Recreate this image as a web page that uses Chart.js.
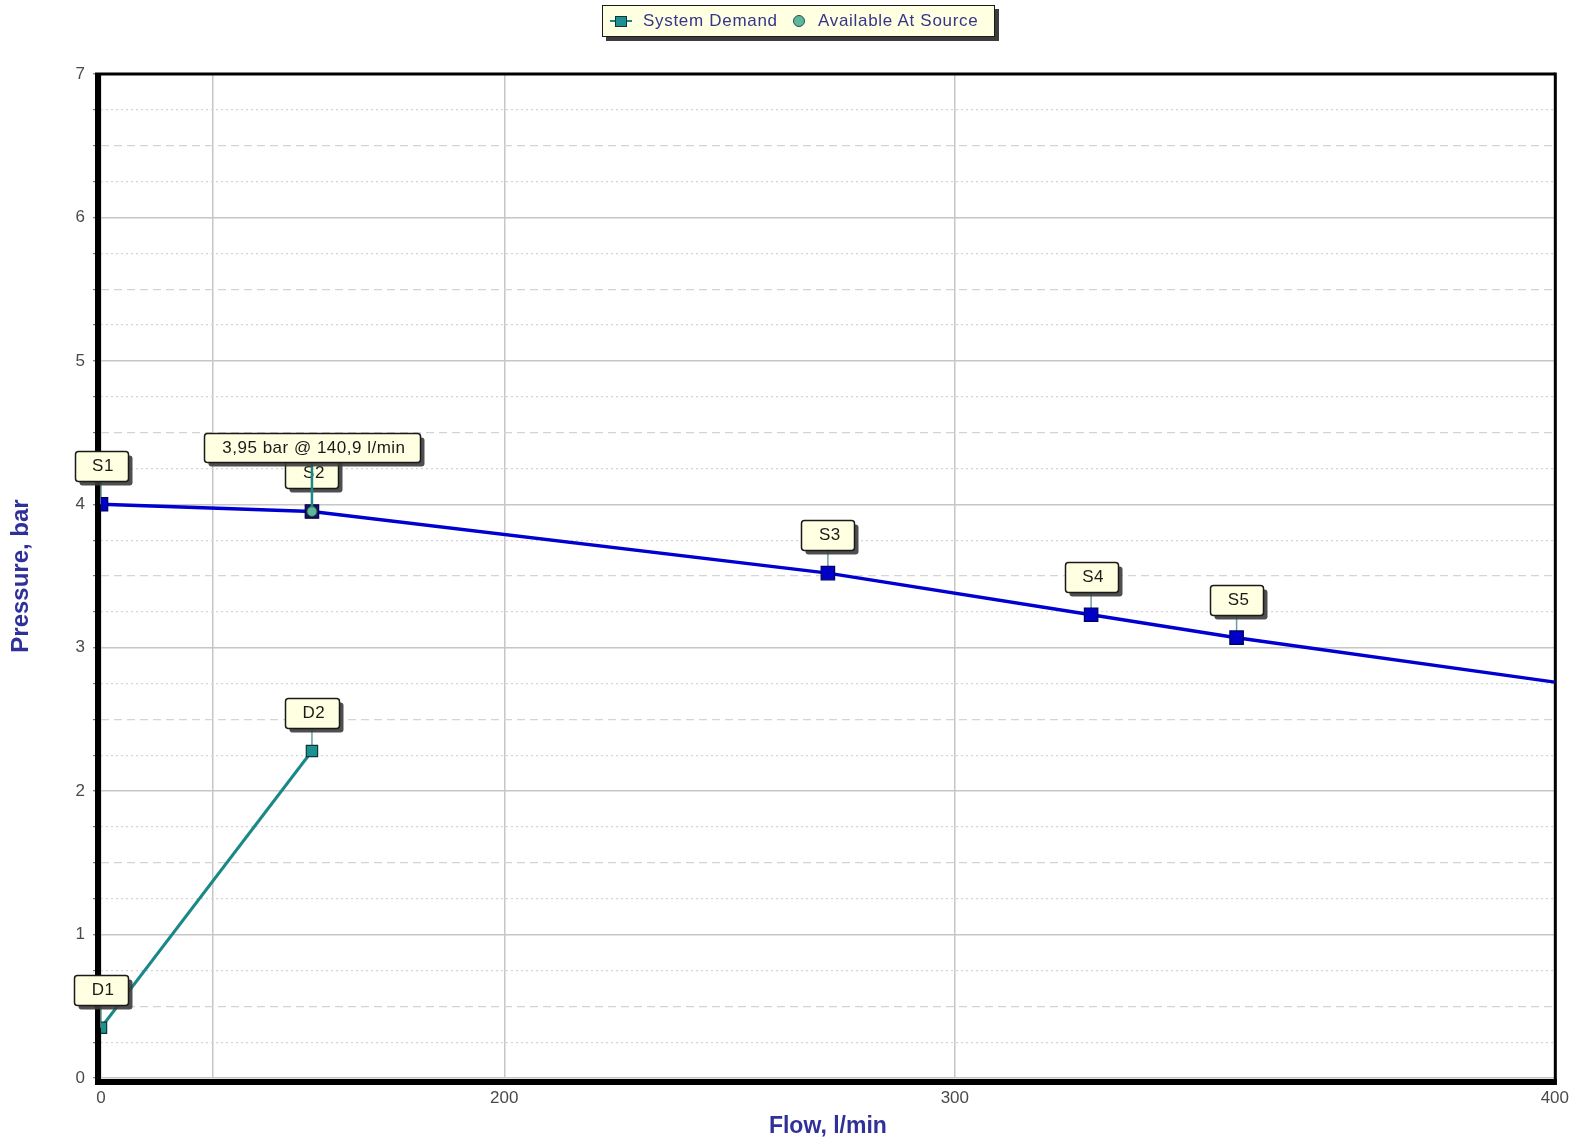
<!DOCTYPE html>
<html>
<head>
<meta charset="utf-8">
<title>Pressure vs Flow</title>
<script src="https://cdn.jsdelivr.net/npm/chart.js@4.4.1/dist/chart.umd.min.js"></script>
<style>
  body { margin: 0; background: #fff; font-family: "Liberation Sans", Arial, sans-serif; }
  #wrap { position: relative; width: 1579px; height: 1145px; }
  #legend {
    position: absolute; left: 602px; top: 5px; width: 391px; height: 30px;
    background: #ffffe1; border: 1.5px solid #1a1a1a; box-shadow: 4px 4px 0 #3c3c3c;
    color: #35358a; font-size: 17px; letter-spacing: 0.7px;
  }
  #legend span { position: absolute; }
  .txt { top: 0; line-height: 30px; white-space: nowrap; }
  .dash { left: 7px; top: 14px; width: 22px; height: 2px; background: #1b8787; }
  .sq { left: 12px; top: 10px; width: 10px; height: 9px; background: #1e9090; border: 1px solid #083838; }
  .dot { left: 190px; top: 9px; width: 10px; height: 10px; border-radius: 50%; background: #5db89b; border: 1px solid #2c4f4f; }
</style>
</head>
<body>
<div id="wrap">
  <canvas id="myChart" width="1579" height="1145"></canvas>
  <div id="legend">
    <span class="dash"></span><span class="sq"></span>
    <span class="txt" style="left:40px">System Demand</span>
    <span class="dot"></span>
    <span class="txt" style="left:215px">Available At Source</span>
  </div>
</div>
<script>
// x axis is hydraulic graph paper: distance grows with flow^1.85
const EXP = 1.85
const xTicks = [0, 100, 200, 300, 400]
const xTickLabels = ['0', '', '200', '300', '400']

const sourceFlow = [0, 140.9, 275, 325, 350, 400]
const sourcePressure = [4.0, 3.95, 3.52, 3.23, 3.07, 2.76]
const sourceLabels = ['S1', 'S2', 'S3', 'S4', 'S5', '']

const demandFlow = [0, 140.9]
const demandPressure = [0.35, 2.28]
const demandLabels = ['D1', 'D2']

const availFlow = [140.9]
const availPressure = [3.95]
const availText = ['3,95 bar @ 140,9 l/min']

class PowerScale extends Chart.LinearScale {
  static id = 'power'
  static defaults = {}
  fwd(v) { return Math.pow(Math.max(v, 0), EXP) }
  getPixelForValue(value) {
    const a = this.fwd(this.min), b = this.fwd(this.max)
    return this.getPixelForDecimal((this.fwd(value) - a) / (b - a))
  }
  getValueForPixel(pixel) {
    const a = this.fwd(this.min), b = this.fwd(this.max)
    return Math.pow(a + this.getDecimalForPixel(pixel) * (b - a), 1 / EXP)
  }
}
Chart.register(PowerScale)

function boxPath(ctx, x, y, w, h, r) {
  ctx.beginPath()
  ctx.moveTo(x + r, y)
  ctx.arcTo(x + w, y, x + w, y + h, r)
  ctx.arcTo(x + w, y + h, x, y + h, r)
  ctx.arcTo(x, y + h, x, y, r)
  ctx.arcTo(x, y, x + w, y, r)
  ctx.closePath()
}

function tipBox(ctx, cx, bottom, w, h, text, size) {
  const x = Math.round(cx - w / 2) + 0.5, y = Math.round(bottom - h) + 0.5
  ctx.fillStyle = 'rgba(60,60,60,0.9)'
  boxPath(ctx, x + 4, y + 4, w, h, 3); ctx.fill()
  ctx.fillStyle = '#ffffe1'
  boxPath(ctx, x, y, w, h, 3); ctx.fill()
  ctx.strokeStyle = '#1a1a1a'; ctx.lineWidth = 1.5; ctx.stroke()
  ctx.fillStyle = '#1a1a1a'
  ctx.font = size + 'px "Liberation Sans", Arial, sans-serif'
  if ('letterSpacing' in ctx) ctx.letterSpacing = '0.5px'
  ctx.textAlign = 'center'; ctx.textBaseline = 'middle'
  ctx.fillText(text, cx + 2, y + h / 2)
  if ('letterSpacing' in ctx) ctx.letterSpacing = '0px'
}

// frame + leader lines under the points, label boxes on top
const decorations = {
  id: 'decorations',
  beforeDatasetsDraw(chart) {
    const { ctx, chartArea: a } = chart
    ctx.save()
    ctx.fillStyle = '#000'
    ctx.fillRect(a.left, a.top - 1.5, a.right - a.left, 3)
    ctx.fillRect(a.right - 1, a.top - 1.5, 3, a.bottom - a.top + 8)
    ctx.fillRect(a.left - 6, a.top - 1.5, 6, a.bottom - a.top + 8.5)
    ctx.fillRect(a.left - 6, a.bottom + 1, a.right - a.left + 8, 6)

    ctx.strokeStyle = '#6e9c9c'; ctx.lineWidth = 1.5
    const leader = (meta, labels) => meta.data.forEach((pt, i) => {
      if (!labels[i]) return
      ctx.beginPath(); ctx.moveTo(pt.x, pt.y - 24); ctx.lineTo(pt.x, pt.y); ctx.stroke()
    })
    leader(chart.getDatasetMeta(2), sourceLabels)
    leader(chart.getDatasetMeta(1), demandLabels)
    ctx.restore()
  },
  afterDatasetsDraw(chart) {
    const { ctx } = chart
    ctx.save()
    chart.getDatasetMeta(2).data.forEach((pt, i) => {
      if (sourceLabels[i]) tipBox(ctx, pt.x, pt.y - 23, 53, 30, sourceLabels[i], 17)
    })
    chart.getDatasetMeta(1).data.forEach((pt, i) => {
      tipBox(ctx, pt.x, pt.y - 23, 54, 30, demandLabels[i], 17)
    })
    chart.getDatasetMeta(0).data.forEach((pt, i) => {
      ctx.strokeStyle = '#1b8787'; ctx.lineWidth = 2.5
      ctx.beginPath(); ctx.moveTo(pt.x, pt.y - 49); ctx.lineTo(pt.x, pt.y - 4); ctx.stroke()
      tipBox(ctx, pt.x, pt.y - 49, 216, 29, availText[i], 17)
    })
    ctx.restore()
  }
}

const toPoints = (xs, ys) => xs.map((x, i) => ({ x: x, y: ys[i] }))
const fam = '"Liberation Sans", Arial, sans-serif'

new Chart(document.getElementById('myChart'), {
  type: 'line',
  data: {
    datasets: [
      {
        label: 'Available At Source',
        data: toPoints(availFlow, availPressure),
        showLine: false,
        pointStyle: 'circle',
        pointRadius: 5,
        pointBackgroundColor: '#5db89b',
        pointBorderColor: '#2c4f4f',
        pointBorderWidth: 1
      },
      {
        label: 'System Demand',
        data: toPoints(demandFlow, demandPressure),
        borderColor: '#1b8787',
        borderWidth: 3,
        pointStyle: 'rect',
        pointRadius: 8,
        pointBackgroundColor: '#1e9090',
        pointBorderColor: '#083838',
        pointBorderWidth: 1.2
      },
      {
        label: 'Source',
        data: toPoints(sourceFlow, sourcePressure),
        borderColor: '#0000d0',
        borderWidth: 3.5,
        pointStyle: 'rect',
        pointRadius: sourceLabels.map(l => l ? 9.5 : 0),
        pointBackgroundColor: sourceLabels.map((l, i) => i === 1 ? '#15154a' : '#0000c8'),
        pointBorderColor: '#00005a',
        pointBorderWidth: 1.2
      }
    ]
  },
  options: {
    responsive: false,
    animation: false,
    events: [],
    layout: { padding: { top: 74, right: 22, left: 0, bottom: 0 } },
    plugins: {
      legend: { display: false },
      tooltip: { enabled: false }
    },
    scales: {
      x: {
        type: 'power',
        min: 0,
        max: 400,
        afterBuildTicks: scale => { scale.ticks = xTicks.map(v => ({ value: v })) },
        afterFit: scale => { scale.height = 67 },
        ticks: {
          autoSkip: false,
          maxRotation: 0,
          padding: 10,
          color: '#4a4a4a',
          font: { family: fam, size: 17 },
          callback: (v, i) => xTickLabels[i]
        },
        grid: { color: '#c6c6c6', lineWidth: 1.5, drawTicks: false },
        border: { display: false },
        title: {
          display: true,
          text: 'Flow, l/min',
          color: '#30309a',
          font: { family: fam, size: 23, weight: 'bold' },
          padding: { top: 0, bottom: 5 }
        }
      },
      y: {
        min: 0,
        max: 7,
        afterFit: scale => { scale.width = 101 },
        ticks: {
          stepSize: 0.25,
          autoSkip: false,
          padding: 8,
          color: '#4a4a4a',
          font: { family: fam, size: 17 },
          callback: v => v % 1 === 0 ? String(v) : ''
        },
        grid: {
          color: c => (c.tick && c.tick.value % 1 === 0) ? '#c6c6c6' : '#d4d4d4',
          lineWidth: c => (c.tick && c.tick.value % 1 === 0) ? 1.5 : 1.2,
          tickLength: 8,
          tickColor: '#777',
          tickWidth: 1.2
        },
        border: {
          display: false,
          dash: c => {
            if (!c.tick) return []
            const q = Math.round((c.tick.value % 1) * 4)
            return q === 0 ? [] : (q === 2 ? [8, 5] : [2, 3])
          }
        },
        title: {
          display: true,
          text: 'Pressure, bar',
          color: '#30309a',
          font: { family: fam, size: 24, weight: 'bold' },
          padding: { top: 7, bottom: 0 }
        }
      }
    }
  },
  plugins: [decorations]
})
</script>
</body>
</html>
